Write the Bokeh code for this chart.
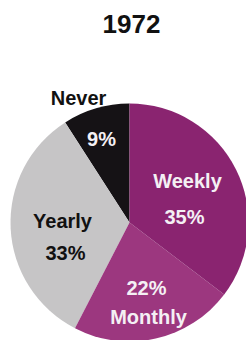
import numpy as np
from bokeh.plotting import figure
from bokeh.models import ColumnDataSource
from bokeh.core.properties import value
from bokeh.embed import file_html
from bokeh.resources import INLINE

# ---- data ----
title_text = "1972"
categories = ["Never", "Yearly", "Monthly", "Weekly"]
percents = [9, 33, 22, 35]
colors = ["#151215", "#c6c5c6", "#9c377f", "#8a2470"]

# ---- layout ----
W, H = 246, 340
cx, cy, r = 129, 118, 119
FONT = "Liberation Sans"

vals = np.array(percents, dtype=float)
frac = vals / vals.sum()
ends = np.pi / 2 + 2 * np.pi * np.cumsum(frac)
starts = np.concatenate([[np.pi / 2], ends[:-1]])

p = figure(width=W, height=H, x_range=(0, W), y_range=(0, H),
           output_backend="svg", toolbar_location=None,
           x_axis_location=None, y_axis_location=None, title=None,
           min_border=0, outline_line_color=None)
p.grid.visible = False
p.background_fill_color = "white"
p.border_fill_color = "white"

src = ColumnDataSource(dict(start=starts, end=ends, color=colors,
                            x=[cx] * 4, y=[cy] * 4))
p.wedge(x="x", y="y", radius=r, start_angle="start", end_angle="end",
        fill_color="color", line_color=None, direction="anticlock", source=src)

# label offsets from pie centre (name dx, dy, pct dx, dy), text colours
name_off = [(-51, 125), (-67, 2), (19, -94), (58, 42)]
pct_off = [(-28, 84), (-64, -30), (17, -65), (55, 6)]
name_col = ["#111111", "#111111", "#f4f0f4", "#f4f0f4"]
pct_col = ["#f4f0f4", "#111111", "#f4f0f4", "#f4f0f4"]

lab = ColumnDataSource(dict(
    nx=[cx + o[0] for o in name_off], ny=[cy + o[1] for o in name_off],
    px=[cx + o[0] for o in pct_off], py=[cy + o[1] for o in pct_off],
    name=categories, pct=[f"{v}%" for v in percents],
    ncol=name_col, pcol=pct_col))
p.text(x="nx", y="ny", text="name", text_color="ncol", source=lab,
       text_font=value(FONT), text_font_style="bold", text_font_size="20px",
       text_align="center", text_baseline="middle")
p.text(x="px", y="py", text="pct", text_color="pcol", source=lab,
       text_font=value(FONT), text_font_style="bold", text_font_size="20px",
       text_align="center", text_baseline="middle")

p.text(x=[131], y=[317], text=[title_text], text_color="#111111",
       text_font=value(FONT), text_font_style="bold", text_font_size="26px",
       text_align="center", text_baseline="middle")

open("out.html", "w").write(file_html(p, INLINE))
